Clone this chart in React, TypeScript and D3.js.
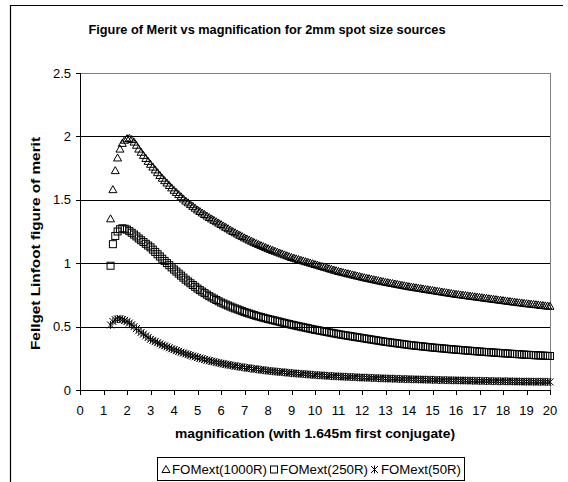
import React from "react";
import * as d3 from "d3";

const magnification = [
  1.3, 1.4, 1.5, 1.6, 1.7, 1.8, 1.9,
  2.0, 2.1, 2.2, 2.3, 2.4, 2.5, 2.6, 2.7, 2.8, 2.9,
  3.0, 3.1, 3.2, 3.3, 3.4, 3.5, 3.6, 3.7, 3.8, 3.9,
  4.0, 4.1, 4.2, 4.3, 4.4, 4.5, 4.6, 4.7, 4.8, 4.9,
  5.0, 5.1, 5.2, 5.3, 5.4, 5.5, 5.6, 5.7, 5.8, 5.9,
  6.0, 6.1, 6.2, 6.3, 6.4, 6.5, 6.6, 6.7, 6.8, 6.9,
  7.0, 7.1, 7.2, 7.3, 7.4, 7.5, 7.6, 7.7, 7.8, 7.9,
  8.0, 8.1, 8.2, 8.3, 8.4, 8.5, 8.6, 8.7, 8.8, 8.9,
  9.0, 9.1, 9.2, 9.3, 9.4, 9.5, 9.6, 9.7, 9.8, 9.9,
  10.0, 10.1, 10.2, 10.3, 10.4, 10.5, 10.6, 10.7, 10.8, 10.9,
  11.0, 11.1, 11.2, 11.3, 11.4, 11.5, 11.6, 11.7, 11.8, 11.9,
  12.0, 12.1, 12.2, 12.3, 12.4, 12.5, 12.6, 12.7, 12.8, 12.9,
  13.0, 13.1, 13.2, 13.3, 13.4, 13.5, 13.6, 13.7, 13.8, 13.9,
  14.0, 14.1, 14.2, 14.3, 14.4, 14.5, 14.6, 14.7, 14.8, 14.9,
  15.0, 15.1, 15.2, 15.3, 15.4, 15.5, 15.6, 15.7, 15.8, 15.9,
  16.0, 16.1, 16.2, 16.3, 16.4, 16.5, 16.6, 16.7, 16.8, 16.9,
  17.0, 17.1, 17.2, 17.3, 17.4, 17.5, 17.6, 17.7, 17.8, 17.9,
  18.0, 18.1, 18.2, 18.3, 18.4, 18.5, 18.6, 18.7, 18.8, 18.9,
  19.0, 19.1, 19.2, 19.3, 19.4, 19.5, 19.6, 19.7, 19.8, 19.9,
  20.0,
];

const fom1000R = [
  1.35, 1.58, 1.73, 1.83, 1.90, 1.945, 1.97,
  1.982, 1.985, 1.975, 1.955, 1.93, 1.90, 1.875, 1.85, 1.826, 1.803,
  1.78, 1.758, 1.736, 1.714, 1.692, 1.67, 1.651, 1.632, 1.613, 1.594,
  1.575, 1.558, 1.541, 1.524, 1.507, 1.49, 1.476, 1.462, 1.448, 1.434,
  1.42, 1.408, 1.396, 1.384, 1.372, 1.36, 1.349, 1.338, 1.327, 1.316,
  1.305, 1.294, 1.283, 1.272, 1.261, 1.25, 1.24, 1.23, 1.22, 1.21,
  1.20, 1.191, 1.182, 1.173, 1.164, 1.155, 1.147, 1.139, 1.131, 1.123,
  1.115, 1.108, 1.101, 1.094, 1.087, 1.08, 1.073, 1.066, 1.059, 1.052,
  1.045, 1.04, 1.034, 1.029, 1.023, 1.018, 1.012, 1.007, 1.001, 0.996,
  0.99, 0.985, 0.979, 0.974, 0.968, 0.963, 0.957, 0.952, 0.946, 0.941,
  0.935, 0.931, 0.926, 0.922, 0.917, 0.913, 0.908, 0.904, 0.899, 0.895,
  0.89, 0.886, 0.882, 0.878, 0.874, 0.87, 0.866, 0.862, 0.858, 0.854,
  0.85, 0.847, 0.843, 0.84, 0.836, 0.833, 0.829, 0.826, 0.822, 0.819,
  0.815, 0.812, 0.809, 0.806, 0.803, 0.80, 0.797, 0.794, 0.791, 0.788,
  0.785, 0.782, 0.779, 0.776, 0.773, 0.77, 0.767, 0.764, 0.761, 0.758,
  0.755, 0.753, 0.75, 0.748, 0.745, 0.743, 0.74, 0.738, 0.735, 0.733,
  0.73, 0.728, 0.725, 0.723, 0.72, 0.718, 0.715, 0.713, 0.71, 0.708,
  0.705, 0.703, 0.70, 0.698, 0.695, 0.693, 0.69, 0.688, 0.686, 0.683,
  0.681, 0.679, 0.677, 0.675, 0.673, 0.671, 0.668, 0.666, 0.664, 0.662,
  0.66,
];

const fom250R = [
  0.98, 1.15, 1.215, 1.25, 1.268, 1.275, 1.272,
  1.265, 1.253, 1.24, 1.226, 1.211, 1.195, 1.181, 1.167, 1.153, 1.139,
  1.125, 1.107, 1.089, 1.071, 1.053, 1.035, 1.018, 1.001, 0.984, 0.967,
  0.95, 0.934, 0.918, 0.902, 0.886, 0.87, 0.856, 0.842, 0.828, 0.814,
  0.80, 0.788, 0.776, 0.764, 0.752, 0.74, 0.73, 0.72, 0.71, 0.70,
  0.69, 0.682, 0.674, 0.666, 0.658, 0.65, 0.643, 0.636, 0.629, 0.622,
  0.615, 0.609, 0.603, 0.597, 0.591, 0.585, 0.58, 0.575, 0.57, 0.565,
  0.56, 0.556, 0.551, 0.547, 0.542, 0.538, 0.533, 0.529, 0.524, 0.52,
  0.515, 0.511, 0.507, 0.503, 0.499, 0.495, 0.491, 0.487, 0.483, 0.479,
  0.475, 0.472, 0.468, 0.465, 0.461, 0.458, 0.454, 0.451, 0.447, 0.444,
  0.44, 0.437, 0.434, 0.431, 0.428, 0.425, 0.422, 0.419, 0.416, 0.413,
  0.41, 0.407, 0.404, 0.401, 0.398, 0.395, 0.392, 0.389, 0.386, 0.383,
  0.38, 0.378, 0.375, 0.373, 0.37, 0.368, 0.365, 0.363, 0.36, 0.358,
  0.355, 0.353, 0.351, 0.349, 0.347, 0.345, 0.343, 0.341, 0.339, 0.337,
  0.335, 0.333, 0.332, 0.33, 0.328, 0.327, 0.325, 0.323, 0.321, 0.32,
  0.318, 0.317, 0.315, 0.314, 0.312, 0.311, 0.309, 0.308, 0.306, 0.305,
  0.303, 0.302, 0.30, 0.299, 0.298, 0.297, 0.295, 0.294, 0.293, 0.291,
  0.29, 0.289, 0.288, 0.286, 0.285, 0.284, 0.283, 0.282, 0.28, 0.279,
  0.278, 0.277, 0.276, 0.275, 0.274, 0.273, 0.272, 0.271, 0.27, 0.269,
  0.268,
];

const fom50R = [
  0.513, 0.54, 0.555, 0.56, 0.56, 0.556, 0.549,
  0.54, 0.528, 0.515, 0.50, 0.484, 0.468, 0.454, 0.441, 0.427, 0.414,
  0.40, 0.391, 0.382, 0.373, 0.364, 0.355, 0.348, 0.34, 0.333, 0.325,
  0.318, 0.311, 0.305, 0.298, 0.292, 0.285, 0.279, 0.274, 0.268, 0.262,
  0.256, 0.251, 0.246, 0.241, 0.236, 0.231, 0.227, 0.223, 0.218, 0.214,
  0.21, 0.206, 0.203, 0.199, 0.196, 0.192, 0.189, 0.186, 0.183, 0.18,
  0.177, 0.174, 0.172, 0.169, 0.167, 0.164, 0.162, 0.159, 0.157, 0.154,
  0.152, 0.15, 0.148, 0.146, 0.144, 0.142, 0.141, 0.139, 0.137, 0.135,
  0.133, 0.132, 0.13, 0.129, 0.127, 0.126, 0.124, 0.123, 0.121, 0.12,
  0.118, 0.117, 0.116, 0.115, 0.114, 0.112, 0.111, 0.11, 0.109, 0.108,
  0.107, 0.106, 0.105, 0.104, 0.103, 0.103, 0.102, 0.101, 0.10, 0.099,
  0.098, 0.097, 0.097, 0.096, 0.095, 0.095, 0.094, 0.093, 0.092, 0.092,
  0.091, 0.09, 0.09, 0.089, 0.089, 0.088, 0.087, 0.087, 0.086, 0.086,
  0.085, 0.085, 0.084, 0.084, 0.083, 0.083, 0.082, 0.082, 0.081, 0.081,
  0.08, 0.08, 0.079, 0.079, 0.078, 0.078, 0.078, 0.077, 0.077, 0.076,
  0.076, 0.076, 0.075, 0.075, 0.075, 0.074, 0.074, 0.073, 0.073, 0.072,
  0.072, 0.072, 0.071, 0.071, 0.071, 0.07, 0.07, 0.07, 0.069, 0.069,
  0.069, 0.069, 0.068, 0.068, 0.068, 0.067, 0.067, 0.067, 0.066, 0.066,
  0.066, 0.066, 0.066, 0.065, 0.065, 0.065, 0.065, 0.065, 0.064, 0.064,
  0.064,
];

const seriesNames = ["FOMext(1000R)", "FOMext(250R)", "FOMext(50R)"];
const xTicks = d3.range(0, 21, 1);
const yTicks = [0, 0.5, 1, 1.5, 2, 2.5];
const titleText = "Figure of Merit vs magnification for 2mm spot size sources";
const xTitle = "magnification (with 1.645m first conjugate)";
const yTitle = "Fellget Linfoot figure of merit";

const FONT = "'Liberation Sans', Arial, sans-serif";
const W = 568;
const H = 482;
const L = 80, R = 550, T = 73, B = 390;

function marker(kind: number, cx: number, cy: number, key: string) {
  if (kind === 0) {
    return (
      <path key={key} d={`M${cx - 4},${cy + 3}L${cx + 4},${cy + 3}L${cx},${cy - 4}Z`}
        fill="none" stroke="#000" strokeWidth={1} />
    );
  }
  if (kind === 1) {
    return (
      <rect key={key} x={cx - 3.5} y={cy - 3.5} width={7} height={7}
        fill="none" stroke="#000" strokeWidth={1} />
    );
  }
  return (
    <path key={key}
      d={`M${cx - 3.5},${cy - 3.5}L${cx + 3.5},${cy + 3.5}M${cx - 3.5},${cy + 3.5}L${cx + 3.5},${cy - 3.5}M${cx},${cy - 4}L${cx},${cy + 4}`}
      fill="none" stroke="#000" strokeWidth={1} />
  );
}

export default function App() {
  const x = d3.scaleLinear().domain([0, 20]).range([L, R]);
  const y = d3.scaleLinear().domain([0, 2.5]).range([B, T]);
  const crisp = (v: number) => Math.round(v) + 0.5;
  const allSeries = [fom1000R, fom250R, fom50R];

  const legendItems = [
    { kind: 0, mx: 166, tx: 172, w: 95 },
    { kind: 1, mx: 274, tx: 280, w: 88 },
    { kind: 2, mx: 374.5, tx: 381, w: 80 },
  ];

  return (
    <svg width={W} height={H} style={{ position: "absolute", left: 0, top: 0, background: "#fff" }}
      fontFamily={FONT}>
      <rect x={0} y={0} width={W} height={H} fill="#fff" />
      {/* outer frame */}
      <line x1={10.5} y1={5} x2={10.5} y2={H} stroke="#000" strokeWidth={1.2} />
      <line x1={10} y1={5.5} x2={563} y2={5.5} stroke="#000" strokeWidth={1.2} />

      <text x={267} y={33.5} textAnchor="middle" fontSize={12} fontWeight="bold"
        textLength={357} lengthAdjust="spacingAndGlyphs">{titleText}</text>

      {/* gridlines */}
      {yTicks.filter((t) => t > 0).map((t) => (
        <line key={"g" + t} x1={L} x2={R} y1={crisp(y(t))} y2={crisp(y(t))}
          stroke={t === 2.5 ? "#808080" : "#000"} strokeWidth={1} />
      ))}
      {/* plot right border */}
      <line x1={crisp(R)} x2={crisp(R)} y1={T} y2={B} stroke="#808080" strokeWidth={1} />

      {/* y axis */}
      <line x1={crisp(L)} x2={crisp(L)} y1={T} y2={B + 0.5} stroke="#000" strokeWidth={1} />
      {yTicks.map((t) => (
        <g key={"yt" + t}>
          <line x1={L - 4} x2={L} y1={crisp(y(t))} y2={crisp(y(t))} stroke="#000" strokeWidth={1} />
          <text x={71} y={y(t) + 4.6} textAnchor="end" fontSize={13}>{t}</text>
        </g>
      ))}

      {/* x axis */}
      <line x1={L} x2={R + 1} y1={crisp(B)} y2={crisp(B)} stroke="#000" strokeWidth={1} />
      {xTicks.map((t) => (
        <g key={"xt" + t}>
          <line x1={crisp(x(t))} x2={crisp(x(t))} y1={B} y2={B + 5} stroke="#000" strokeWidth={1} />
          <text x={x(t)} y={415} textAnchor="middle" fontSize={13}>{t}</text>
        </g>
      ))}

      <text x={315} y={437.5} textAnchor="middle" fontSize={12.5} fontWeight="bold"
        textLength={280} lengthAdjust="spacingAndGlyphs">{xTitle}</text>
      <text transform={`translate(40,243.5) rotate(-90)`} textAnchor="middle" fontSize={12}
        fontWeight="bold" textLength={213} lengthAdjust="spacingAndGlyphs">{yTitle}</text>

      {/* series */}
      {allSeries.map((vals, si) => (
        <g key={"s" + si}>
          {vals.map((v, i) => marker(si, x(magnification[i]), y(v), `m${si}-${i}`))}
        </g>
      ))}

      {/* legend */}
      <rect x={157.5} y={457.5} width={307} height={23} fill="#fff" stroke="#000" strokeWidth={1} />
      {legendItems.map((it, i) => (
        <g key={"l" + i}>
          {marker(it.kind, it.mx, 469.5, "lm" + i)}
          <text x={it.tx} y={474} fontSize={12.5} textLength={it.w}
            lengthAdjust="spacingAndGlyphs">{seriesNames[i]}</text>
        </g>
      ))}
    </svg>
  );
}
